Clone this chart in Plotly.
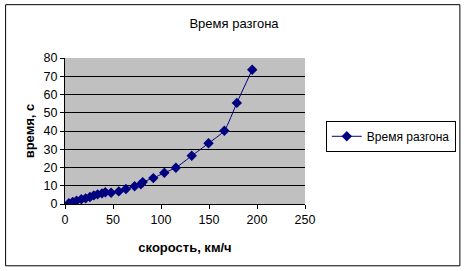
import plotly.graph_objects as go

speed = [4, 8, 12, 17, 21.5, 26, 30, 34, 38.5, 42, 48, 56, 63.5, 72.5, 79, 81, 92, 103.5, 115.5, 132, 149.5, 166, 179, 195]
time_s = [0.4, 1.1, 1.8, 2.6, 3.1, 3.8, 4.7, 5.3, 5.8, 6.4, 6.2, 6.9, 8.2, 9.7, 10.8, 12, 14.2, 17.1, 19.9, 26.4, 33.3, 40.1, 55.4, 73.6]
series_name = "Время разгона"
title_text = "Время разгона"
x_title = "скорость, км/ч"
y_title = "время, с"

FONT = "Arial, 'Liberation Sans', sans-serif"

fig = go.Figure()
fig.add_trace(go.Scatter(
    x=speed, y=time_s, mode="lines+markers", name=series_name,
    line=dict(color="#000080", width=1, shape="spline", smoothing=0.5),
    marker=dict(symbol="diamond", size=8, color="#000080"),
    showlegend=True,
))

L, R, T, B = 64.5, 307, 58, 204.5
W, H = 468, 271
pw, ph = R - L, B - T

def px2paper_x(px):
    return (px - L) / pw

def px2paper_y(py):
    return (B - py) / ph

fig.update_layout(
    width=W, height=H,
    margin=dict(l=L, r=W - R, t=T, b=H - B, pad=0),
    paper_bgcolor="white", plot_bgcolor="#c0c0c0",
    font=dict(family=FONT, size=12, color="black"),
    title=dict(text=title_text, x=(234) / W, xanchor="center",
               y=1 - 23 / H, yanchor="middle", font=dict(size=13)),
    xaxis=dict(range=[0, 250], dtick=50, tick0=0, showgrid=False, zeroline=False,
               showline=True, linecolor="black", linewidth=1,
               ticks="outside", ticklen=4, tickcolor="black",
               tickfont=dict(size=12.5),
               title=dict(text="<b>" + x_title + "</b>", standoff=16, font=dict(size=13))),
    yaxis=dict(range=[0, 80], dtick=10, tick0=0, showgrid=True, gridcolor="black", gridwidth=1,
               zeroline=False, showline=True, linecolor="black", linewidth=1,
               ticks="outside", ticklen=4, tickcolor="black",
               tickfont=dict(size=12.5),
               title=dict(text="<b>" + y_title + "</b>", standoff=6, font=dict(size=13))),
    legend=dict(x=px2paper_x(328), y=px2paper_y(121), xanchor="left", yanchor="top",
                bordercolor="black", borderwidth=1, bgcolor="white",
                font=dict(size=12), itemwidth=30,
                tracegroupgap=0),
    shapes=[dict(type="rect", xref="paper", yref="paper",
                 x0=px2paper_x(4.5), x1=px2paper_x(463.5),
                 y0=px2paper_y(266.5), y1=px2paper_y(4.5),
                 line=dict(color="black", width=1), fillcolor="rgba(0,0,0,0)", layer="below")],
)

fig.write_html("out.html")
